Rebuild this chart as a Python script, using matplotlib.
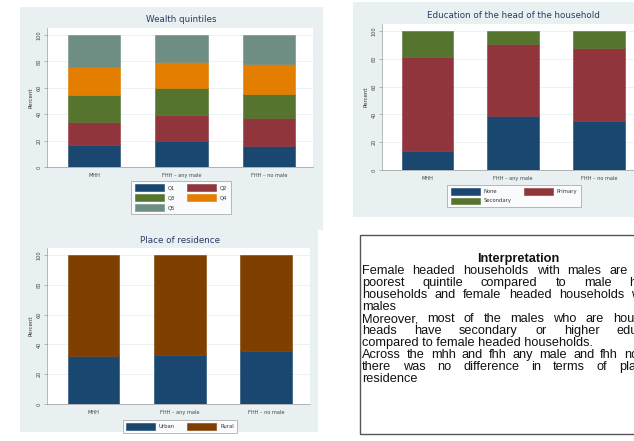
import matplotlib
matplotlib.use("Agg")
import matplotlib.pyplot as plt
from matplotlib.patches import Rectangle
import numpy as np

W, H = 634, 441

groups = ["MHH", "FHH \u2013 any male", "FHH \u2013 no male"]

wealth_names = ["Q1", "Q2", "Q3", "Q4", "Q5"]
wealth_vals = [
    [16.5, 19.5, 16.2],
    [17.7, 20.2, 21.0],
    [20.2, 20.3, 17.8],
    [21.6, 19.5, 23.2],
    [24.0, 20.5, 21.8],
]

edu_names = ["None", "Primary", "Secondary"]
edu_vals = [
    [13.7, 39.1, 35.5],
    [67.8, 51.8, 52.0],
    [18.5, 9.1, 12.5],
]

res_names = ["Urban", "Rural"]
res_vals = [
    [32.4, 32.6, 35.3],
    [67.6, 67.4, 64.7],
]

interp_title = "Interpretation"
interp_paras = [
    ["Female headed households with males are in the",
     "poorest quintile compared to male headed",
     "households and female headed households without",
     "males"],
    ["Moreover, most of the males who are household",
     "heads have secondary or higher education",
     "compared to female headed households."],
    ["Across the mhh and fhh any male and fhh no male",
     "there was no difference in terms of place of",
     "residence"],
]

NAVY, MAROON, GREEN, ORANGE, TEAL, BROWN = (
    "#1a476f", "#90353b", "#55752f", "#e37e00", "#6e8e84", "#7f3f00")
BG = "#e8f0f2"
TITLE_C = "#2b3a67"

fig = plt.figure(figsize=(W / 100, H / 100), dpi=100)


def fbox(x0, y0, x1, y1):
    return [x0 / W, 1 - y1 / H, (x1 - x0) / W, (y1 - y0) / H]


def panel(x0, y0, x1, y1):
    b = fbox(x0, y0, x1, y1)
    fig.patches.append(Rectangle((b[0], b[1]), b[2], b[3], transform=fig.transFigure,
                                 facecolor=BG, edgecolor="none", zorder=-5))


def stacked(box, series, colors, names, xlim, ytop, title, title_xy, leg_xy, ncol,
            lspace=0.45):
    ax = fig.add_axes(fbox(*box))
    x = np.arange(len(groups))
    bottom = np.zeros(len(groups))
    for vals, c, n in zip(series, colors, names):
        ax.bar(x, vals, width=0.6, bottom=bottom, color=c, edgecolor=c,
               linewidth=0.4, label=n, zorder=3)
        bottom += np.array(vals)
    ax.set_xlim(*xlim)
    ax.set_ylim(0, ytop)
    ax.set_yticks(range(0, 101, 20))
    ax.set_yticklabels([str(v) for v in range(0, 101, 20)], rotation=90,
                       va="center", fontsize=3.6, color="#444444")
    ax.set_xticks(x)
    ax.set_xticklabels(groups, fontsize=3.6, color="#444444")
    ax.tick_params(axis="y", length=2, width=0.4, color="#888888", pad=2)
    ax.tick_params(axis="x", length=0, pad=4)
    ax.set_ylabel("Percent", fontsize=4, color="#333333", labelpad=2)
    ax.grid(axis="y", color="#eaf2f3", linewidth=0.7, zorder=0)
    for s in ["top", "right"]:
        ax.spines[s].set_visible(False)
    for s in ["left", "bottom"]:
        ax.spines[s].set_color("#999999")
        ax.spines[s].set_linewidth(0.5)
    fig.text(title_xy[0] / W, 1 - title_xy[1] / H, title, ha="center", va="center",
             fontsize=6.3, color=TITLE_C)

    # Stata fills legend rows first
    handles, labels = ax.get_legend_handles_labels()
    n = len(handles)
    nrows = -(-n // ncol)
    order = [r * ncol + c for c in range(ncol) for r in range(nrows) if r * ncol + c < n]
    leg = ax.legend([handles[i] for i in order], [labels[i] for i in order],
                    ncol=ncol, loc="upper center",
                    bbox_to_anchor=(leg_xy[0] / W, 1 - leg_xy[1] / H),
                    bbox_transform=fig.transFigure, fontsize=3.8, frameon=True,
                    fancybox=False, edgecolor="#888888", handlelength=5.5,
                    handleheight=1.5, columnspacing=2.3, handletextpad=0.75,
                    labelspacing=lspace, borderpad=0.6, borderaxespad=0)
    leg.get_frame().set_linewidth(0.5)
    for t in leg.get_texts():
        t.set_color("#333333")
    return ax


# background panels
panel(20, 7, 323, 230)
panel(20, 228, 318, 432)
panel(353, 2, 650, 217)

stacked((47, 28, 313, 167), wealth_vals, [NAVY, MAROON, GREEN, ORANGE, TEAL],
        wealth_names, (-0.537, 2.503), 105.3, "Wealth quintiles", (181, 20),
        (181, 181), 2, lspace=0.7)
stacked((382, 24, 643, 170), edu_vals, [NAVY, MAROON, GREEN],
        edu_names, (-0.53, 2.513), 105.0, "Education of the head of the household",
        (513, 16), (514, 185), 2, lspace=0.55)
stacked((47, 248, 310, 404), res_vals, [NAVY, BROWN],
        res_names, (-0.54, 2.51), 104.7, "Place of residence", (180, 240),
        (180, 420), 2)

# interpretation box
b = fbox(360, 235, 680, 434)
fig.patches.append(Rectangle((b[0], b[1]), b[2], b[3], transform=fig.transFigure,
                             facecolor="white", edgecolor="#555555", linewidth=1.0,
                             zorder=-4))

FS = 9.2
txt_kw = dict(fontsize=FS, family="Liberation Sans", color="#111111", va="baseline")
fig.text(518 / W, 1 - 262 / H, interp_title, ha="center", fontweight="bold", **txt_kw)

renderer = fig.canvas.get_renderer()


def text_w(s):
    t = fig.text(0, 0, s, **txt_kw)
    w = t.get_window_extent(renderer).width
    t.remove()
    return w


left, right = 362, 672
y = 274
for para in interp_paras:
    for i, line in enumerate(para):
        words = line.split()
        last = i == len(para) - 1
        if last or len(words) == 1:
            fig.text(left / W, 1 - y / H, line, ha="left", **txt_kw)
        else:
            widths = [text_w(wd) for wd in words]
            gap = (right - left - sum(widths)) / (len(words) - 1)
            x = left
            for wd, w in zip(words, widths):
                fig.text(x / W, 1 - y / H, wd, ha="left", **txt_kw)
                x += w + gap
        y += 12

fig.savefig("out.png", dpi=100)
